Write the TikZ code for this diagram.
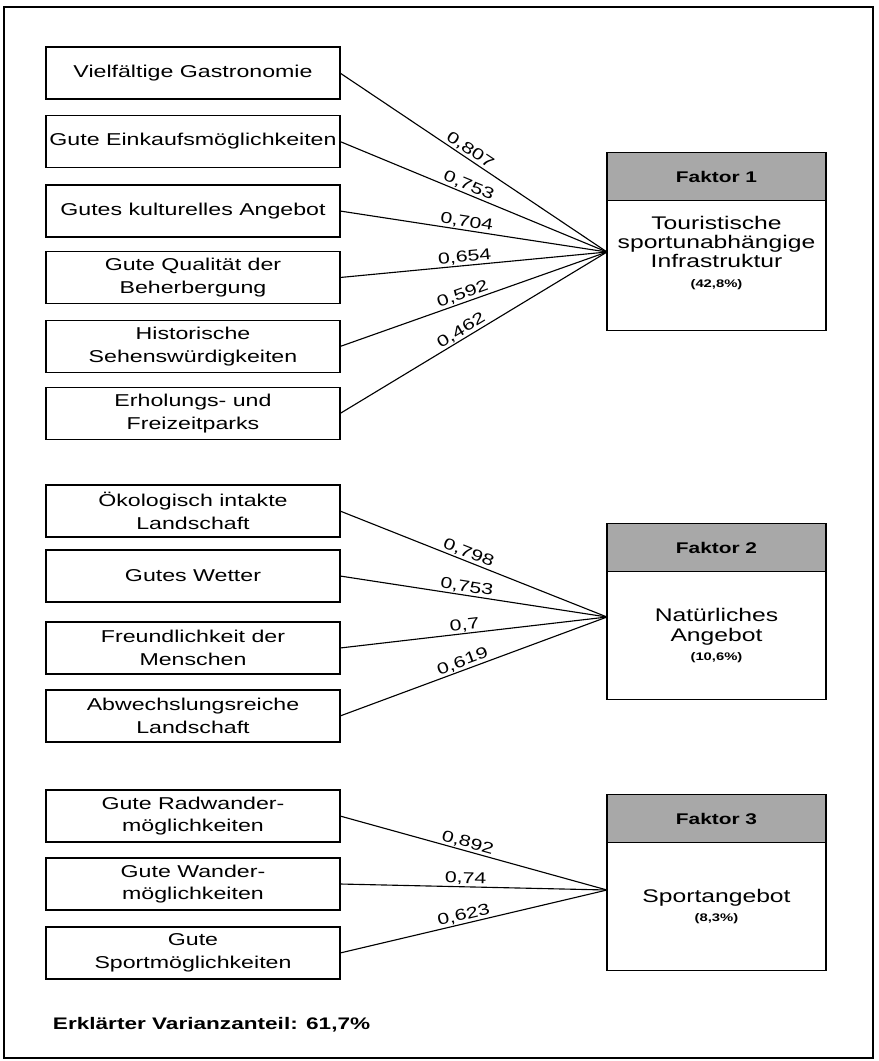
\documentclass[tikz,border=0pt]{standalone}
\usepackage{fontspec}
\setmainfont[FakeStretch=1.35]{Liberation Sans}
\usetikzlibrary{positioning}
\definecolor{rastergrau}{RGB}{168,168,168}
\newcommand{\prozent}{\fontsize{7.8}{9}\selectfont\bfseries}

\begin{document}
\begin{tikzpicture}[x=0.025cm, y=-0.025cm,
			item/.style={draw, line width=0.9pt, minimum width=7.35cm, minimum height=1.3cm, inner xsep=1pt, outer sep=0pt, align=center, font=\fontsize{12.2}{16}\selectfont},
			kopf/.style={draw, line width=0.9pt, fill=rastergrau, minimum width=5.475cm, minimum height=1.2cm, outer sep=0pt, font=\fontsize{11}{13}\selectfont\bfseries},
			faktor/.style={draw, line width=0.9pt, minimum width=5.475cm, minimum height=3.2cm, outer sep=0pt, align=center, font=\fontsize{13}{13.6}\selectfont},
			verbindung/.style={line width=0.8pt},
			wert/.style={sloped, above, pos=.47, inner sep=0.8pt, font=\fontsize{11.2}{12}\selectfont}]
			\useasboundingbox (0,0) rectangle (879,1061);
			% Rahmen
			\draw[line width=1.1pt] (4,7) rectangle (873,1058);
			% Variablen
			\foreach \y/\name/\txt in {73/v1/{Vielfältige Gastronomie}, 141.5/v2/{Gute Einkaufsmöglichkeiten}, 211/v3/{Gutes kulturelles Angebot}, 277.5/v4/{Gute Qualität der\\Beherbergung}, 346.5/v5/{Historische\\Sehenswürdigkeiten}, 413.5/v6/{Erholungs- und\\Freizeitparks}, 511/v7/{Ökologisch intakte\\Landschaft}, 576/v8/{Gutes Wetter}, 648/v9/{Freundlichkeit der\\Menschen}, 716/v10/{Abwechslungsreiche\\Landschaft}, 816/v11/{Gute Radwander-\\möglichkeiten}, 884/v12/{Gute Wander-\\möglichkeiten}, 953/v13/{Gute\\Sportmöglichkeiten}}
				\node[item] (\name) at (193,\y) {\txt};
			% Faktoren
			\node[kopf] (f1kopf) at (716.5,176.5) {Faktor 1};
			\node[faktor, minimum height=3.25cm, below=0pt of f1kopf] (f1) {Touristische\\sportunabhängige\\Infrastruktur\\{\prozent (42,8\%)}\\[6pt]};
			\node[kopf] (f2kopf) at (716.5,547.5) {Faktor 2};
			\node[faktor, below=0pt of f2kopf] (f2) {Natürliches\\Angebot\\{\prozent (10,6\%)}};
			\node[kopf] (f3kopf) at (716.5,818.5) {Faktor 3};
			\node[faktor, below=0pt of f3kopf] (f3) {Sportangebot\\{\prozent (8,3\%)}};
			\coordinate (k1) at (607,252);
			\coordinate (k2) at (607,617);
			\coordinate (k3) at (607,890);
			% Ladungen
			\foreach \name/\k/\w in {v1/k1/{0,807}, v2/k1/{0,753}, v3/k1/{0,704}, v4/k1/{0,654}, v5/k1/{0,592}, v6/k1/{0,462}, v7/k2/{0,798}, v8/k2/{0,753}, v9/k2/{0,7}, v10/k2/{0,619}, v11/k3/{0,892}, v12/k3/{0,74}, v13/k3/{0,623}}
				\draw[verbindung] (\name.east) -- (\k) node[wert] {\w};
			% Beschriftung
			\node[anchor=west, font=\fontsize{11.9}{14}\selectfont\bfseries] (varianz) at (48,1025) {Erklärter Varianzanteil: 61,7\%};
		\end{tikzpicture}
\end{document}
